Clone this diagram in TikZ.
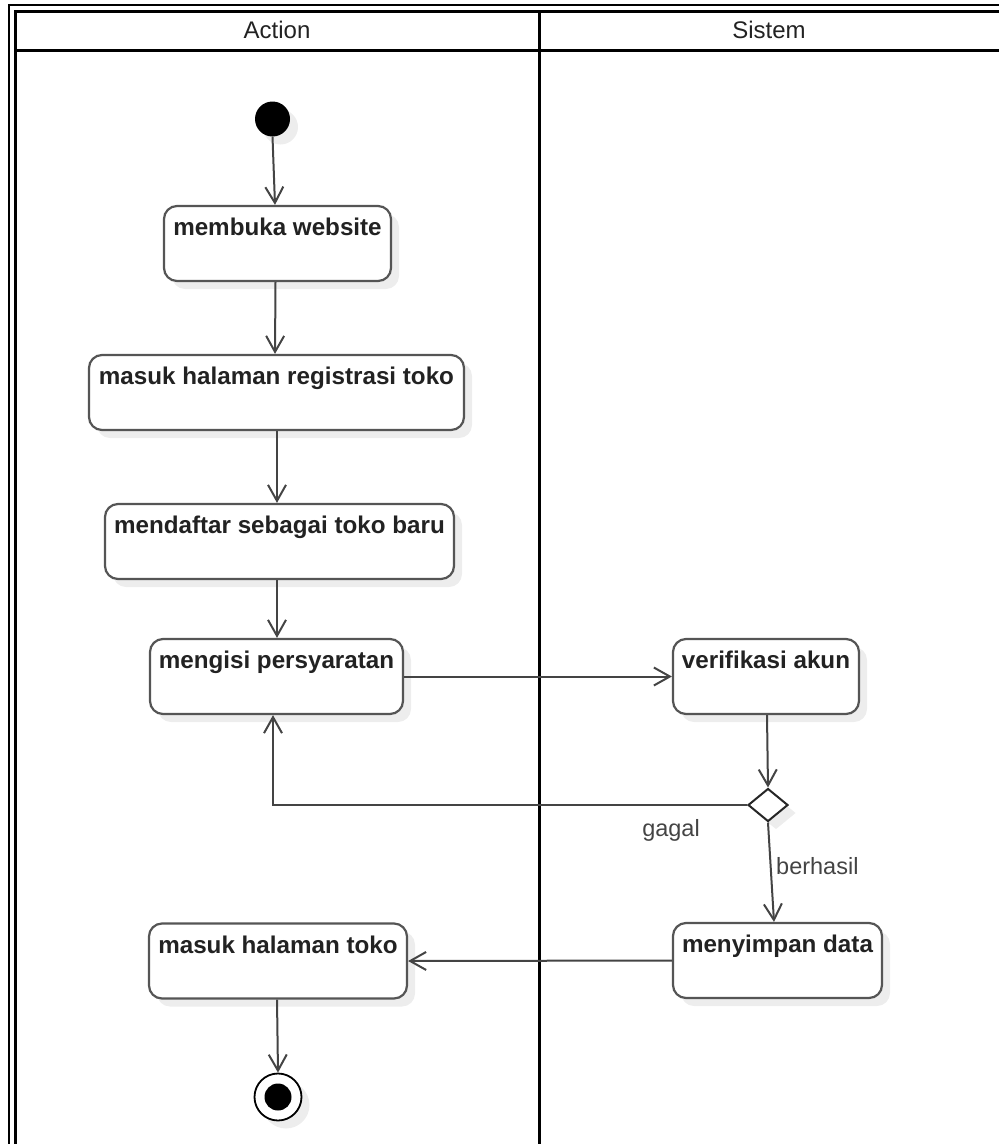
\documentclass[tikz,border=0pt]{standalone}
\usepackage{fontspec}
\setmainfont{Liberation Sans}
\usetikzlibrary{arrows.meta,shapes.geometric,shadows}
\definecolor{boxline}{HTML}{555555}
\definecolor{connc}{HTML}{444444}
\definecolor{txtc}{HTML}{222222}
\definecolor{shadec}{HTML}{EDEDED}
\newcommand{\bxfont}{\fontsize{24.2}{28}\selectfont\bfseries}
\newcommand{\hdfont}{\fontsize{24}{28}\selectfont}
\newcommand{\lbfont}{\fontsize{23.5}{27}\selectfont}
\begin{document}
\begin{tikzpicture}[x=1pt,y=-1pt,
  myshadow/.style={drop shadow={shadow xshift=8pt,shadow yshift=-8pt,fill=shadec,opacity=1}},
  actbox/.style={draw=boxline,line width=2.2pt,rounded corners=13pt,fill=white,
    minimum height=75pt,inner sep=0pt,myshadow,
    label={[anchor=base,yshift=-31pt,inner sep=0pt,font=\bxfont,text=txtc]north:#1}},
  flow/.style={draw=connc,line width=2pt,-{Straight Barb[length=16pt,width=18pt]}},
  lanethin/.style={draw=black,line width=1.5pt},
  lanethick/.style={draw=black,line width=3pt},
  guard/.style={font=\lbfont,text=connc,inner sep=0pt}]
\useasboundingbox (0,0) rectangle (999,1144);
\clip (0,0) rectangle (999,1144);
% swimlanes
\draw[lanethin] (9,1160) -- (9,5) -- (1020,5);
\draw[lanethick] (15,1160) -- (15,11) -- (1020,11);
\draw[lanethick] (15,50) -- (1020,50);
\draw[lanethick] (539,11) -- (539,1160);
\node[font=\hdfont,text=txtc] (hA) at (277,30) {Action};
\node[font=\hdfont,text=txtc] (hS) at (769,30) {Sistem};
% nodes
\node[circle,fill=black,minimum size=35pt,inner sep=0pt,myshadow] (start) at (272.5,119) {};
\node[actbox={membuka website},minimum width=227pt] (b1) at (277.5,243.5) {};
\node[actbox={masuk halaman registrasi toko},minimum width=375pt] (b2) at (276.5,392.5) {};
\node[actbox={mendaftar sebagai toko baru},minimum width=349pt] (b3) at (279.5,541.5) {};
\node[actbox={mengisi persyaratan},minimum width=253pt] (b4) at (276.5,676.5) {};
\node[actbox={verifikasi akun},minimum width=186pt] (b5) at (766,676.5) {};
\node[diamond,draw=black!85,line width=2pt,fill=white,minimum width=40pt,minimum height=33pt,inner sep=0pt,myshadow] (dec) at (768,805) {};
\node[actbox={menyimpan data},minimum width=209pt] (b6) at (777.5,960.5) {};
\node[actbox={masuk halaman toko},minimum width=258pt] (b7) at (278,961) {};
\node[circle,draw=black,line width=1.8pt,fill=white,minimum size=47pt,inner sep=0pt,myshadow] (end) at (278,1097) {};
\node[circle,fill=black,minimum size=27pt,inner sep=0pt] (endin) at (end) {};
% connectors
\draw[flow] (start.south) -- ([xshift=-2.5pt]b1.north);
\draw[flow] ([xshift=-2pt]b1.south) -- ([xshift=-1.5pt]b2.north);
\draw[flow] ([xshift=0.5pt]b2.south) -- ([xshift=-2.5pt]b3.north);
\draw[flow] ([xshift=-2.5pt]b3.south) -- ([xshift=0.5pt]b4.north);
\draw[flow] (b4.east) -- (b5.west);
\draw[flow] ([xshift=1pt]b5.south) -- (dec.north);
\draw[flow] (dec.west) -| ([xshift=-3.5pt]b4.south);
\draw[flow] (dec.south) -- ([xshift=-3.5pt]b6.north);
\draw[flow] (b6.west) -- (b7.east);
\draw[flow] ([xshift=-1pt]b7.south) -- (end.north);
% guards
\node[guard] (lg) at (671,830) {gagal};
\node[guard,anchor=west] (lb) at (776,866) {berhasil};
\end{tikzpicture}
\end{document}
